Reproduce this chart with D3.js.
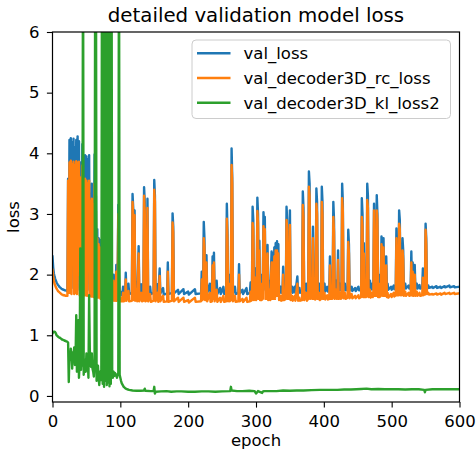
<!DOCTYPE html>
<html><head><meta charset="utf-8">
<script src="https://cdn.jsdelivr.net/npm/d3@7"></script>
<style>body{margin:0;background:#fff}svg{display:block;font-family:"DejaVu Sans",sans-serif}</style>
</head><body><svg id="chart" width="476" height="454"></svg>
<script>
const chartTitle = "detailed validation model loss";
const xLabel = "epoch";
const yLabel = "loss";
const seriesNames = ["val_loss", "val_decoder3D_rc_loss", "val_decoder3D_kl_loss2"];
const seriesColors = ["#1f77b4", "#ff7f0e", "#2ca02c"];
const xTicks = [0, 100, 200, 300, 400, 500, 600];
const yTicks = [0, 1, 2, 3, 4, 5, 6];

// epochs 0..106, one value per epoch (index = epoch)
const valLossEarly = [2.30,2.12,2.02,1.97,1.93,1.90,1.87,1.85,1.83,1.82,
  1.80,1.79,1.78,1.77,1.76,1.76,1.75,1.75,1.74,1.74,
  1.74,1.73,1.73,3.58,1.78,4.22,1.80,4.25,1.78,4.18,
  2.80,4.24,1.78,4.10,1.80,4.22,1.78,4.28,2.30,4.20,
  1.75,1.80,3.85,1.78,4.15,1.78,3.95,1.75,3.97,1.75,
  3.95,1.75,3.90,3.00,3.97,1.74,3.34,1.73,3.50,1.72,
  3.30,1.72,3.98,1.72,3.30,1.70,2.75,1.70,2.60,1.70,
  2.57,1.68,2.40,1.68,2.30,1.68,2.10,1.68,2.50,1.68,
  2.20,1.66,2.05,1.66,2.30,1.66,2.00,1.66,1.85,1.66,
  2.00,1.66,1.90,1.66,2.16,1.66,1.90,3.15,2.00,1.66,
  1.70,1.66,1.72,1.66,1.80,1.66,1.67];
const rcLossEarly = [2.08,1.97,1.90,1.85,1.82,1.79,1.77,1.75,1.73,1.72,
  1.71,1.70,1.69,1.68,1.67,1.67,1.66,1.66,1.66,1.65,
  1.65,1.65,1.65,3.55,1.70,3.85,1.70,3.88,1.68,3.82,
  2.50,3.86,1.68,3.80,1.70,3.87,1.68,3.84,2.00,3.86,
  1.66,1.70,3.60,1.68,3.80,1.68,3.55,1.66,3.58,1.66,
  3.55,1.65,3.50,2.80,3.55,1.65,3.20,1.64,3.25,1.64,
  3.15,1.63,3.50,1.63,3.05,1.62,2.60,1.62,2.50,1.62,
  2.45,1.60,2.30,1.60,2.20,1.60,2.00,1.60,2.40,1.60,
  2.10,1.58,1.95,1.58,2.20,1.58,1.90,1.58,1.75,1.57,
  1.90,1.57,1.80,1.57,2.05,1.57,1.80,3.00,1.90,1.57,
  1.60,1.56,1.62,1.56,1.70,1.56,1.57];
const klLossEarly = [1.03,1.05,1.06,1.06,1.05,1.03,1.00,0.99,0.98,0.97,
  0.96,0.96,0.95,0.94,0.93,0.93,0.92,0.92,0.91,0.91,
  0.90,0.90,0.89,0.88,0.23,0.70,0.60,0.78,0.67,0.45,
  0.72,0.60,0.80,0.51,0.62,1.33,0.40,0.90,1.25,0.30,
  0.55,2.43,0.43,0.65,0.50,8.00,0.35,0.60,0.45,0.40,
  0.70,0.55,0.60,0.30,1.66,0.76,0.50,0.48,0.70,0.45,
  0.40,0.32,0.50,8.00,8.00,0.25,0.37,0.50,0.30,0.18,
  0.40,0.26,0.35,8.00,0.20,8.00,0.15,8.00,0.25,8.00,
  0.18,8.00,0.22,8.00,0.16,8.00,0.20,8.00,0.35,0.30,
  0.40,0.33,0.38,0.36,0.34,0.30,0.35,0.38,8.00,0.35,
  0.30,0.25,0.21,0.19,0.17,0.15,0.14];

// epochs 107..599: [epoch, val_loss, val_decoder3D_rc_loss]
const lossLate = [
[107,1.68,1.57],[108,2.03,1.92],[109,1.70,1.57],[112,1.85,1.73],[113,1.68,1.56],[117,1.70,1.57],
[118,3.33,3.20],[119,3.10,2.98],[120,1.72,1.58],[121,3.06,2.98],[122,1.70,1.57],[124,1.88,1.76],
[125,1.68,1.56],[127,2.47,2.35],[128,1.69,1.56],[131,1.84,1.70],[132,1.68,1.56],[134,1.70,1.57],
[135,3.44,3.30],[136,3.20,3.05],[137,1.69,1.56],[139,1.72,1.58],[140,3.25,3.10],[141,1.70,1.56],
[144,1.80,1.68],[145,1.68,1.55],[149,1.70,1.57],[150,3.56,3.40],[151,3.30,3.20],[152,1.69,1.56],
[155,1.84,1.70],[156,1.68,1.55],[158,2.10,1.98],[159,1.69,1.56],[163,1.78,1.65],[164,1.67,1.55],
[169,1.69,1.56],[170,2.20,2.05],[171,1.68,1.55],[176,1.70,1.57],[177,3.01,2.86],[178,2.80,2.70],
[179,1.69,1.56],[185,1.75,1.62],[186,1.68,1.55],[193,1.76,1.62],[194,1.68,1.55],[200,1.72,1.58],
[201,1.67,1.54],[210,1.76,1.62],[211,1.68,1.55],[219,1.69,1.56],[220,2.05,1.92],[221,1.72,1.58],
[222,1.75,1.60],[223,2.87,2.60],[224,2.60,2.45],[225,1.72,1.58],[227,2.32,2.20],[228,1.69,1.56],
[232,1.85,1.70],[233,1.68,1.55],[235,1.70,1.56],[236,2.30,2.15],[237,1.75,1.60],[238,2.36,2.20],
[239,1.69,1.56],[242,1.90,1.75],[243,1.68,1.55],[247,1.78,1.62],[248,1.68,1.55],[252,1.80,1.65],
[253,1.68,1.55],[256,1.70,1.56],[257,3.17,2.92],[258,2.70,2.55],[259,1.70,1.56],[260,2.00,1.85],
[261,1.70,1.56],[263,1.72,1.58],[264,4.08,3.81],[265,3.60,3.50],[266,1.70,1.56],[269,1.80,1.65],
[270,1.68,1.55],[274,1.70,1.56],[275,2.17,2.00],[276,1.69,1.56],[280,1.75,1.60],[281,1.68,1.55],
[286,1.78,1.62],[287,1.68,1.55],[291,1.70,1.56],[292,1.87,1.72],[293,1.70,1.57],[294,1.72,1.58],
[295,3.12,2.85],[296,2.90,2.75],[297,1.72,1.58],[299,2.10,1.95],[300,1.72,1.58],[301,1.75,1.60],
[302,3.27,3.05],[303,3.00,2.85],[304,1.75,1.60],[305,2.56,2.40],[306,1.72,1.58],[307,2.00,1.85],
[308,1.72,1.58],[310,1.75,1.60],[311,3.03,2.80],[312,2.80,2.65],[313,2.95,2.75],[314,1.75,1.60],
[315,2.20,2.05],[316,1.75,1.60],[317,2.49,2.35],[318,1.72,1.58],[320,1.90,1.75],[321,1.72,1.58],
[323,2.38,2.20],[324,1.75,1.60],[325,2.35,2.20],[326,1.75,1.60],[327,2.45,2.30],[328,1.75,1.60],
[329,2.52,2.40],[330,1.80,1.65],[331,2.55,2.40],[332,1.80,1.65],[333,2.50,2.35],[334,1.72,1.58],
[336,1.80,1.65],[337,1.70,1.57],[339,1.72,1.58],[340,2.13,2.00],[341,1.72,1.58],[344,1.75,1.60],
[345,3.12,2.90],[346,2.90,2.75],[347,1.75,1.60],[349,1.75,1.60],[350,3.06,2.82],[351,1.72,1.58],
[353,1.80,1.65],[354,1.70,1.57],[357,1.80,1.65],[358,1.70,1.57],[361,1.97,1.85],[362,1.70,1.57],
[364,1.78,1.62],[365,1.70,1.57],[368,1.72,1.58],[369,3.37,3.15],[370,3.10,2.95],[371,1.72,1.58],
[374,1.85,1.70],[375,1.71,1.57],[377,1.74,1.60],[378,3.70,3.45],[379,3.50,3.30],[380,1.74,1.60],
[382,2.00,1.85],[383,1.74,1.60],[384,2.79,2.60],[385,1.74,1.60],[386,1.90,1.75],[387,1.73,1.59],
[388,1.75,1.60],[389,3.42,3.17],[390,3.20,3.00],[391,1.74,1.60],[393,1.85,1.70],[394,1.72,1.58],
[396,1.74,1.60],[397,3.45,3.20],[398,3.20,3.00],[399,1.74,1.60],[401,1.85,1.70],[402,1.72,1.59],
[405,1.80,1.66],[406,1.72,1.59],[408,1.74,1.60],[409,2.30,2.15],[410,1.74,1.60],[411,1.85,1.70],
[412,1.73,1.60],[413,1.76,1.62],[414,3.20,2.95],[415,2.90,2.70],[416,1.74,1.60],[418,1.90,1.75],
[419,1.74,1.60],[420,1.76,1.62],[421,2.40,2.24],[422,1.74,1.60],[424,1.85,1.70],[425,1.74,1.60],
[426,1.76,1.62],[427,3.50,3.26],[428,3.20,3.05],[429,1.75,1.61],[431,1.85,1.70],[432,1.74,1.60],
[435,1.76,1.62],[436,2.74,2.54],[437,2.50,2.35],[438,1.74,1.61],[441,1.80,1.68],[442,1.73,1.61],
[446,1.78,1.65],[447,1.73,1.61],[451,1.80,1.66],[452,1.74,1.61],[455,1.76,1.63],[456,3.26,2.95],
[457,3.00,2.80],[458,1.76,1.63],[459,2.52,2.35],[460,1.76,1.63],[461,1.90,1.75],[462,1.76,1.63],
[463,1.78,1.64],[464,3.50,3.23],[465,3.30,3.10],[466,1.76,1.63],[468,1.90,1.75],[469,1.75,1.62],
[471,1.85,1.70],[472,1.76,1.63],[473,1.78,1.65],[474,3.17,3.06],[475,1.78,1.65],[476,2.60,2.50],
[477,1.78,1.65],[478,3.31,3.06],[479,3.00,2.90],[480,1.76,1.63],[481,2.00,1.85],[482,1.76,1.63],
[484,1.78,1.65],[485,2.63,2.50],[486,2.50,2.40],[487,1.78,1.65],[488,2.60,2.45],[489,1.78,1.65],
[490,2.30,2.15],[491,1.78,1.65],[492,2.30,2.15],[493,1.76,1.63],[494,1.85,1.70],[495,1.75,1.62],
[499,1.80,1.68],[500,1.75,1.63],[503,1.82,1.70],[504,1.76,1.64],[506,1.78,1.66],[507,2.76,2.60],
[508,1.78,1.66],[509,2.50,2.40],[510,1.78,1.66],[511,3.06,2.84],[512,2.90,2.75],[513,1.78,1.66],
[514,2.20,2.05],[515,1.78,1.66],[516,2.60,2.40],[517,2.40,2.25],[518,1.77,1.65],[520,1.85,1.72],
[521,1.77,1.65],[525,1.82,1.70],[526,1.77,1.65],[528,1.78,1.66],[529,2.38,2.20],[530,1.78,1.66],
[531,2.20,2.05],[532,1.77,1.65],[534,2.16,2.00],[535,1.77,1.65],[537,1.85,1.72],[538,1.77,1.65],
[541,1.83,1.70],[542,1.77,1.65],[545,1.78,1.66],[546,2.10,1.95],[547,1.78,1.66],[548,1.90,1.78],
[549,1.79,1.67],[550,2.84,2.74],[551,2.60,2.50],[552,1.79,1.68],[554,1.82,1.70],[555,1.78,1.67],
[560,1.80,1.68],[561,1.78,1.67],[566,1.81,1.69],[567,1.78,1.67],[572,1.80,1.69],[573,1.78,1.67],
[578,1.81,1.70],[579,1.79,1.68],[585,1.82,1.70],[586,1.79,1.68],[592,1.81,1.70],[593,1.79,1.68],
[599,1.80,1.69]];

// epochs 107..599: [epoch, val_decoder3D_kl_loss2]
const klLossLate = [
[107,0.13],[108,0.12],[110,0.11],[113,0.10],[118,0.09],[124,0.085],[130,0.085],[135,0.09],
[136,0.12],[137,0.085],[145,0.08],[149,0.08],[150,0.15],[151,0.04],[152,0.07],[160,0.075],
[168,0.08],[175,0.07],[183,0.075],[190,0.075],[200,0.07],[210,0.07],[220,0.075],[230,0.075],
[240,0.07],[250,0.075],[262,0.08],[263,0.15],[264,0.09],[272,0.08],[280,0.08],[290,0.085],
[298,0.08],[300,0.04],[301,0.05],[303,0.08],[309,0.05],[310,0.07],[312,0.08],[320,0.08],
[330,0.08],[340,0.09],[350,0.085],[360,0.09],[370,0.09],[382,0.095],[394,0.10],[405,0.10],
[420,0.10],[430,0.105],[440,0.105],[448,0.11],[455,0.115],[463,0.12],[470,0.11],[480,0.115],
[490,0.11],[500,0.11],[510,0.11],[520,0.105],[530,0.11],[540,0.11],[548,0.10],[549,0.06],
[550,0.10],[560,0.11],[570,0.11],[580,0.11],[590,0.11],[599,0.11]];

const valLoss = valLossEarly.map((v, i) => [i, v]).concat(lossLate.map(d => [d[0], d[1]]));
const rcLoss = rcLossEarly.map((v, i) => [i, v]).concat(lossLate.map(d => [d[0], d[2]]));
const klLoss = klLossEarly.map((v, i) => [i, v]).concat(klLossLate);
const allSeries = [valLoss, rcLoss, klLoss];

const svg = d3.select("#chart");
const L = 52.5, R = 459.5, T = 32, B = 402;
const x = d3.scaleLinear().domain([0, 600]).range([L, R]);
const y = d3.scaleLinear().domain([-0.1, 6]).range([B, T]);

svg.append("defs").append("clipPath").attr("id", "clip")
  .append("rect").attr("x", L).attr("y", T).attr("width", R - L).attr("height", B - T);

const line = d3.line().x(d => x(d[0])).y(d => y(d[1]));
const plot = svg.append("g").attr("clip-path", "url(#clip)");
allSeries.forEach((s, i) => {
  plot.append("path").datum(s).attr("d", line)
    .attr("fill", "none").attr("stroke", seriesColors[i])
    .attr("stroke-width", 2.4).attr("stroke-linejoin", "round").attr("stroke-linecap", "square");
});

// axes
const xAxis = svg.append("g").attr("transform", `translate(0,${B})`)
  .call(d3.axisBottom(x).tickValues(xTicks).tickFormat(d3.format("d")).tickSize(5.6).tickPadding(8));
const yAxis = svg.append("g").attr("transform", `translate(${L},0)`)
  .call(d3.axisLeft(y).tickValues(yTicks).tickFormat(d3.format("d")).tickSize(5.6).tickPadding(7.5));
[xAxis, yAxis].forEach(a => {
  a.select(".domain").remove();
  a.selectAll(".tick line").attr("stroke", "#000").attr("stroke-width", 1.1);
  a.selectAll(".tick text").attr("fill", "#000").style("font-size", "16.5px")
    .style("font-family", "'DejaVu Sans', sans-serif");
});

svg.append("rect").attr("x", L).attr("y", T).attr("width", R - L).attr("height", B - T)
  .attr("fill", "none").attr("stroke", "#000").attr("stroke-width", 1.2);

// labels
svg.append("text").attr("x", (L + R) / 2).attr("y", 22).attr("text-anchor", "middle")
  .style("font-size", "19.8px").attr("fill", "#000").text(chartTitle);
svg.append("text").attr("x", (L + R) / 2).attr("y", 446).attr("text-anchor", "middle")
  .style("font-size", "16.5px").attr("fill", "#000").text(xLabel);
svg.append("text").attr("transform", `translate(18.5,${(T + B) / 2}) rotate(-90)`)
  .attr("text-anchor", "middle").style("font-size", "16.5px").attr("fill", "#000").text(yLabel);

// legend
const lg = svg.append("g");
lg.append("rect").attr("x", 192).attr("y", 40).attr("width", 258.5).attr("height", 78.5)
  .attr("rx", 4).attr("fill", "#fff").attr("fill-opacity", 0.8)
  .attr("stroke", "#cccccc").attr("stroke-width", 1);
seriesNames.forEach((n, i) => {
  const cy = 53.3 + i * 24.7;
  lg.append("line").attr("x1", 197).attr("x2", 230.5).attr("y1", cy).attr("y2", cy)
    .attr("stroke", seriesColors[i]).attr("stroke-width", 2.4);
  lg.append("text").attr("x", 243.5).attr("y", cy + 5.8).style("font-size", "16.5px")
    .attr("fill", "#000").text(n);
});
</script></body></html>
